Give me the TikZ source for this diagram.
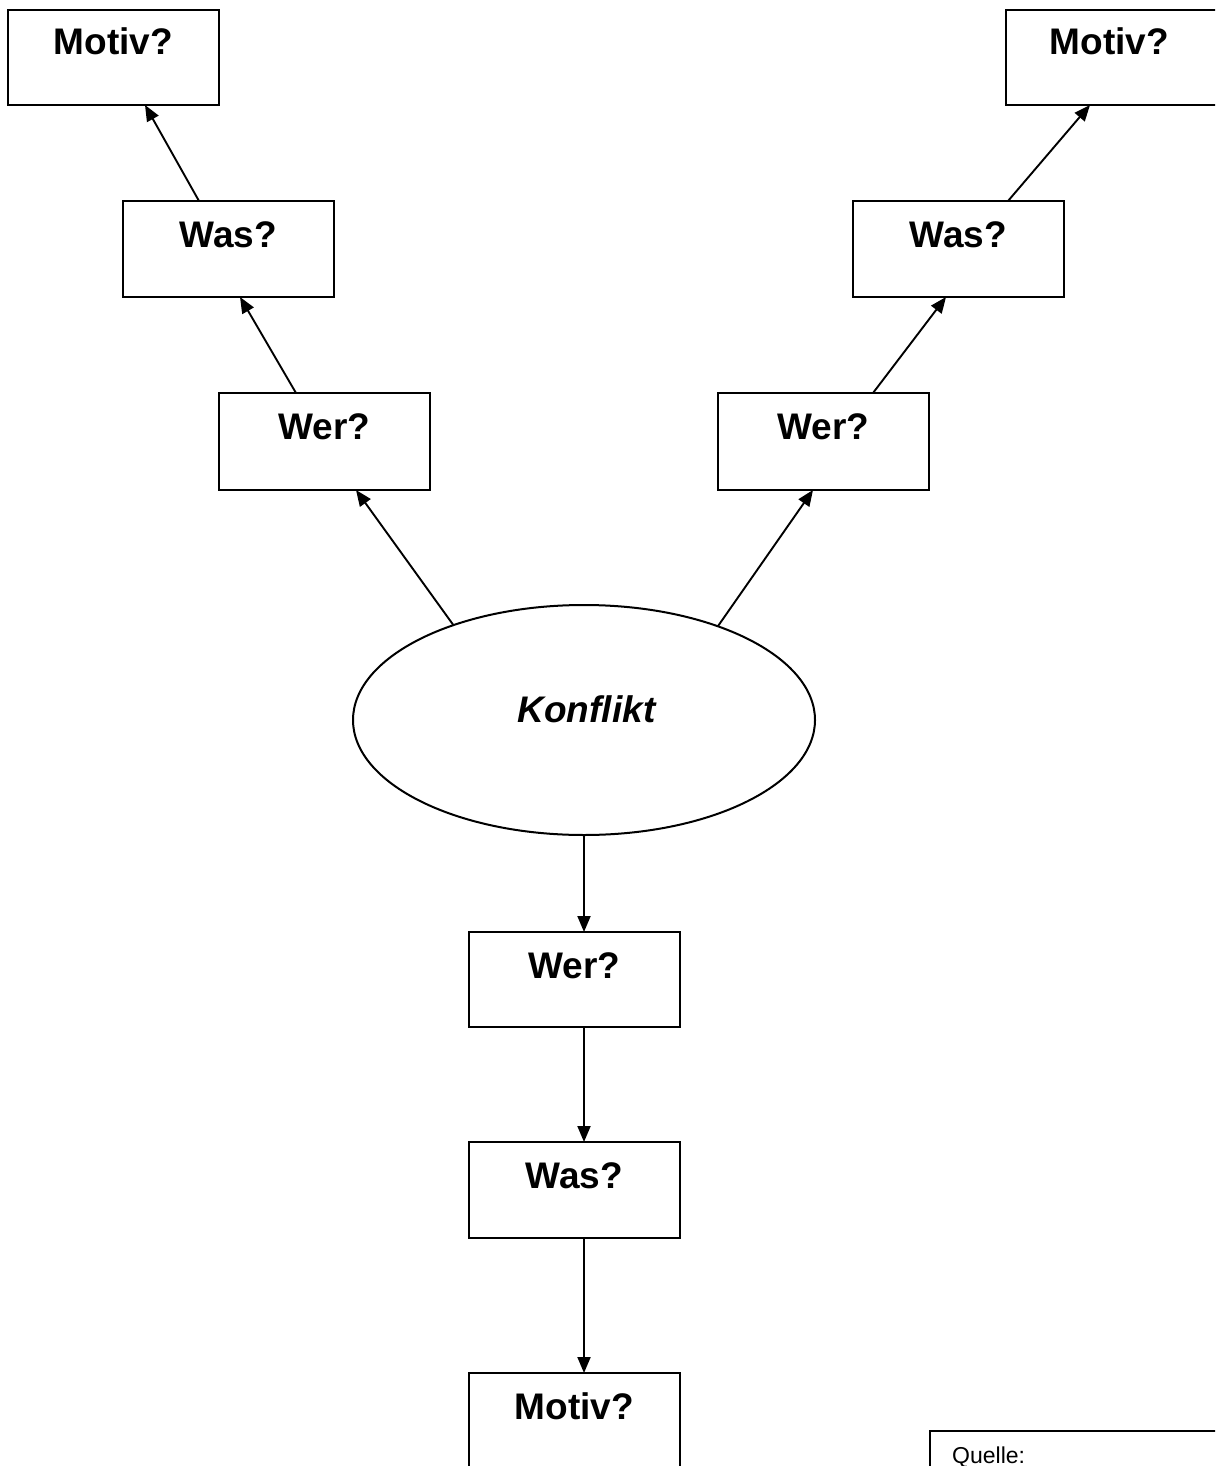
\documentclass[tikz,border=0pt]{standalone}
\usepackage{fontspec}
\setmainfont{Liberation Sans}
\usetikzlibrary{shapes.geometric,arrows.meta,calc}
\tikzset{
  box/.style={draw=black, line width=2pt, fill=white, minimum width=211pt, minimum height=96pt, inner sep=0pt, outer sep=0pt},
  lbl/.style={anchor=base, inner sep=0pt, font=\fontsize{37}{44}\selectfont\bfseries},
  arr/.style={draw=black, line width=1.9pt, -{Triangle[length=16pt,width=13pt]}},
}
\begin{document}
\begin{tikzpicture}[x=1pt,y=-1pt]
\useasboundingbox (0,0) rectangle (1215,1466);
\clip (0,0) rectangle (1215,1466);
\fill[white] (0,0) rectangle (1215,1466);
% boxes
\node[box, minimum height=95pt] (ml) at (113.5,57.5) {};
\node[box, minimum height=95pt] (mr) at (1111.5,57.5) {};
\node[box] (al) at (228.5,249) {};
\node[box] (ar) at (958.5,249) {};
\node[box, minimum height=97pt] (wl) at (324.5,441.5) {};
\node[box, minimum height=97pt] (wr) at (823.5,441.5) {};
\node[draw=black, line width=2pt, ellipse, minimum width=462pt, minimum height=230pt, inner sep=0pt, outer sep=0pt] (K) at (584,720) {};
\node[box, minimum height=95pt] (wb) at (574.5,979.5) {};
\node[box] (ab) at (574.5,1190) {};
\node[box, minimum height=95pt] (mb) at (574.5,1420.5) {};
\node[box, anchor=north west, minimum width=300pt, minimum height=80pt] (q) at (930,1431) {};
% labels
\node[lbl] (tml) at ([yshift=-45pt]ml.north) {Motiv?};
\node[lbl] (tmr) at ([yshift=-45pt,xshift=-2pt]mr.north) {Motiv?};
\node[lbl] (tal) at ([yshift=-46pt]al.north) {Was?};
\node[lbl] (tar) at ([yshift=-46pt]ar.north) {Was?};
\node[lbl] (twl) at ([yshift=-46pt]wl.north) {Wer?};
\node[lbl] (twr) at ([yshift=-46pt]wr.north) {Wer?};
\node[lbl, font=\fontsize{37}{44}\selectfont\bfseries\itshape] (tK) at (586.5,722) {Konflikt};
\node[lbl] (twb) at ([yshift=-46pt]wb.north) {Wer?};
\node[lbl] (tab) at ([yshift=-46pt]ab.north) {Was?};
\node[lbl] (tmb) at ([yshift=-46pt]mb.north) {Motiv?};
\node[anchor=base west, inner sep=0pt, font=\fontsize{23}{27}\selectfont] (tq) at (952,1463.5) {Quelle:};
% arrows
\draw[arr] (K.144.6) -- ([xshift=31.5pt]wl.south);
\draw[arr] (K.35.4) -- ([xshift=-10.5pt]wr.south);
\draw[arr] ([xshift=-28.5pt]wl.north) -- ([xshift=11.5pt]al.south);
\draw[arr] ([xshift=-29.5pt]al.north) -- ([xshift=31.5pt]ml.south);
\draw[arr] ([xshift=49.5pt]wr.north) -- ([xshift=-12.5pt]ar.south);
\draw[arr] ([xshift=49.5pt]ar.north) -- ([xshift=-21.5pt]mr.south);
\draw[arr] (K.south) -- ([xshift=9.5pt]wb.north);
\draw[arr] ([xshift=9.5pt]wb.south) -- ([xshift=9.5pt]ab.north);
\draw[arr] ([xshift=9.5pt]ab.south) -- ([xshift=9.5pt]mb.north);
\end{tikzpicture}
\end{document}
